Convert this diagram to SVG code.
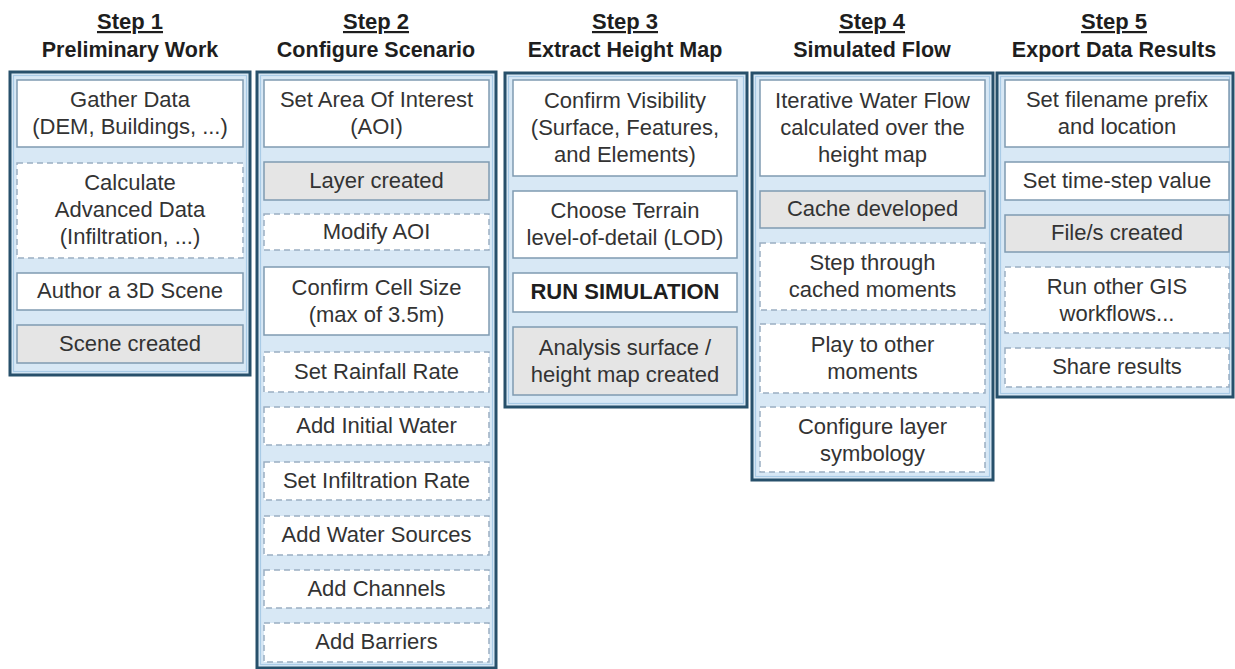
<svg xmlns="http://www.w3.org/2000/svg" width="1235" height="669" viewBox="0 0 1235 669">
<style>
.bg{fill:#ffffff}
.frame{fill:#d8e8f5;stroke:#27506b;stroke-width:3}
.frame-in{fill:none;stroke:#a9cbe6;stroke-width:1.2}
.solid{fill:#ffffff;stroke:#7f9ab1;stroke-width:1.5}
.grey{fill:#e5e5e5;stroke:#7f9ab1;stroke-width:1.5}
.dash{fill:#ffffff;stroke:#9aaec2;stroke-width:1.5;stroke-dasharray:6 4}
.t{font-family:"Liberation Sans",Arial,sans-serif;font-size:22px;fill:#333333;text-anchor:middle}
.b{font-weight:bold;fill:#1e1e1e}
.h1{font-family:"Liberation Sans",Arial,sans-serif;font-size:22px;font-weight:bold;fill:#1e1e1e;text-anchor:middle;text-decoration:underline}
.h2{font-family:"Liberation Sans",Arial,sans-serif;font-size:21.5px;font-weight:bold;fill:#1e1e1e;text-anchor:middle}
</style>
<rect class="bg" x="0" y="0" width="1235" height="669"/>

<g id="headers">
<text class="h1" x="130" y="29">Step 1</text>
<text class="h2" x="130" y="57">Preliminary Work</text>
<text class="h1" x="376" y="29">Step 2</text>
<text class="h2" x="376" y="57">Configure Scenario</text>
<text class="h1" x="625" y="29">Step 3</text>
<text class="h2" x="625" y="57">Extract Height Map</text>
<text class="h1" x="872" y="29">Step 4</text>
<text class="h2" x="872" y="57">Simulated Flow</text>
<text class="h1" x="1114" y="29">Step 5</text>
<text class="h2" x="1114" y="57">Export Data Results</text>
</g>

<g id="step1">
<rect class="frame" x="10" y="72" width="240" height="303"/>
<rect class="frame-in" x="13.5" y="75.5" width="233" height="296"/>
<g id="s1-gather"><rect class="solid" x="17" y="80" width="226" height="67"/>
<text class="t" x="130" y="107">Gather Data</text><text class="t" x="130" y="134">(DEM, Buildings, ...)</text></g>
<g id="s1-calc"><rect class="dash" x="17" y="163" width="226" height="95"/>
<text class="t" x="130" y="190">Calculate</text><text class="t" x="130" y="217">Advanced Data</text><text class="t" x="130" y="244">(Infiltration, ...)</text></g>
<g id="s1-author"><rect class="solid" x="17" y="273" width="226" height="37"/>
<text class="t" x="130" y="298">Author a 3D Scene</text></g>
<g id="s1-scene"><rect class="grey" x="17" y="325" width="226" height="38"/>
<text class="t" x="130" y="350.5">Scene created</text></g>
</g>

<g id="step2">
<rect class="frame" x="257" y="72" width="239" height="596"/>
<rect class="frame-in" x="260.5" y="75.5" width="232" height="589"/>
<g id="s2-aoi"><rect class="solid" x="264" y="80" width="225" height="67"/>
<text class="t" x="376.5" y="107">Set Area Of Interest</text><text class="t" x="376.5" y="134">(AOI)</text></g>
<g id="s2-layer"><rect class="grey" x="264" y="162" width="225" height="38"/>
<text class="t" x="376.5" y="187.5">Layer created</text></g>
<g id="s2-modify"><rect class="dash" x="264" y="214" width="225" height="36"/>
<text class="t" x="376.5" y="238.5">Modify AOI</text></g>
<g id="s2-cell"><rect class="solid" x="264" y="267" width="225" height="68"/>
<text class="t" x="376.5" y="294.5">Confirm Cell Size</text><text class="t" x="376.5" y="321.5">(max of 3.5m)</text></g>
<g id="s2-rain"><rect class="dash" x="264" y="352" width="225" height="40"/>
<text class="t" x="376.5" y="378.5">Set Rainfall Rate</text></g>
<g id="s2-initial"><rect class="dash" x="264" y="407" width="225" height="38"/>
<text class="t" x="376.5" y="432.5">Add Initial Water</text></g>
<g id="s2-infil"><rect class="dash" x="264" y="462" width="225" height="38"/>
<text class="t" x="376.5" y="487.5">Set Infiltration Rate</text></g>
<g id="s2-sources"><rect class="dash" x="264" y="516" width="225" height="39"/>
<text class="t" x="376.5" y="542">Add Water Sources</text></g>
<g id="s2-channels"><rect class="dash" x="264" y="570" width="225" height="38"/>
<text class="t" x="376.5" y="595.5">Add Channels</text></g>
<g id="s2-barriers"><rect class="dash" x="264" y="623" width="225" height="39"/>
<text class="t" x="376.5" y="649">Add Barriers</text></g>
</g>

<g id="step3">
<rect class="frame" x="505" y="73" width="242" height="334"/>
<rect class="frame-in" x="508.5" y="76.5" width="235" height="327"/>
<g id="s3-vis"><rect class="solid" x="513" y="80" width="224" height="96"/>
<text class="t" x="625" y="107.5">Confirm Visibility</text><text class="t" x="625" y="134.5">(Surface, Features,</text><text class="t" x="625" y="161.5">and Elements)</text></g>
<g id="s3-terrain"><rect class="solid" x="513" y="191" width="224" height="67"/>
<text class="t" x="625" y="218">Choose Terrain</text><text class="t" x="625" y="245">level-of-detail (LOD)</text></g>
<g id="s3-run"><rect class="solid" x="513" y="273" width="224" height="39"/>
<text class="t b" x="625" y="299">RUN SIMULATION</text></g>
<g id="s3-analysis"><rect class="grey" x="513" y="327" width="224" height="68"/>
<text class="t" x="625" y="354.5">Analysis surface /</text><text class="t" x="625" y="381.5">height map created</text></g>
</g>

<g id="step4">
<rect class="frame" x="752" y="73" width="241" height="407"/>
<rect class="frame-in" x="755.5" y="76.5" width="234" height="400"/>
<g id="s4-iter"><rect class="solid" x="760" y="80" width="225" height="96"/>
<text class="t" x="872.5" y="107.5">Iterative Water Flow</text><text class="t" x="872.5" y="134.5">calculated over the</text><text class="t" x="872.5" y="161.5">height map</text></g>
<g id="s4-cache"><rect class="grey" x="760" y="191" width="225" height="37"/>
<text class="t" x="872.5" y="216">Cache developed</text></g>
<g id="s4-step"><rect class="dash" x="760" y="243" width="225" height="67"/>
<text class="t" x="872.5" y="270">Step through</text><text class="t" x="872.5" y="297">cached moments</text></g>
<g id="s4-play"><rect class="dash" x="760" y="324" width="225" height="69"/>
<text class="t" x="872.5" y="352">Play to other</text><text class="t" x="872.5" y="379">moments</text></g>
<g id="s4-config"><rect class="dash" x="760" y="407" width="225" height="65"/>
<text class="t" x="872.5" y="433.5">Configure layer</text><text class="t" x="872.5" y="460.5">symbology</text></g>
</g>

<g id="step5">
<rect class="frame" x="997" y="73" width="236" height="324"/>
<rect class="frame-in" x="1000.5" y="76.5" width="229" height="317"/>
<g id="s5-prefix"><rect class="solid" x="1005" y="80" width="224" height="67"/>
<text class="t" x="1117" y="107">Set filename prefix</text><text class="t" x="1117" y="134">and location</text></g>
<g id="s5-time"><rect class="solid" x="1005" y="162" width="224" height="38"/>
<text class="t" x="1117" y="187.5">Set time-step value</text></g>
<g id="s5-files"><rect class="grey" x="1005" y="215" width="224" height="37"/>
<text class="t" x="1117" y="240">File/s created</text></g>
<g id="s5-gis"><rect class="dash" x="1005" y="267" width="224" height="66"/>
<text class="t" x="1117" y="293.5">Run other GIS</text><text class="t" x="1117" y="320.5">workflows...</text></g>
<g id="s5-share"><rect class="dash" x="1005" y="348" width="224" height="39"/>
<text class="t" x="1117" y="374">Share results</text></g>
</g>

<g id="connectors"></g>
</svg>
